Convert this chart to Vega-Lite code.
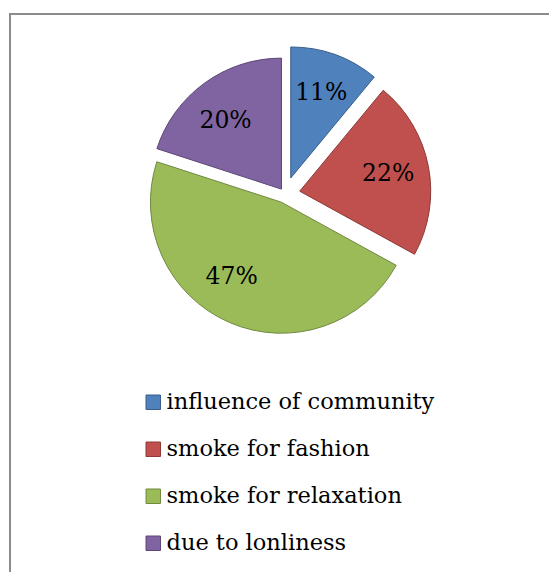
{
  "$schema": "https://vega.github.io/schema/vega-lite/v6.json",
  "width": 550,
  "height": 580,
  "autosize": {"type": "none"},
  "padding": {"left": 10, "top": 14, "right": 0, "bottom": 0},
  "background": "white",
  "config": {
    "view": {"stroke": null},
    "font": "DejaVu Serif"
  },
  "data": {
    "values": [
      {"cause": "influence of community", "pct": 0.11, "rank": 1},
      {"cause": "smoke for fashion", "pct": 0.22, "rank": 2},
      {"cause": "smoke for relaxation", "pct": 0.47, "rank": 3},
      {"cause": "due to lonliness", "pct": 0.20, "rank": 4}
    ]
  },
  "layer": [
    {
      "data": {"values": [{"frame": "border"}]},
      "mark": {"type": "rect", "fill": null, "stroke": "#8c8c8c", "strokeWidth": 2},
      "encoding": {}
    },
    {
      "mark": {
        "type": "arc",
        "radius": 131,
        "strokeWidth": 1,
        "x": {"expr": "width/2"},
        "y": {"expr": "height*0.3103"},
        "xOffset": {"expr": "(datum.cause === 'influence of community' ? 17 : datum.cause === 'smoke for fashion' ? 15 : datum.cause === 'smoke for relaxation' ? 9 : 6) * sin((scale('theta', datum.pct_start) + scale('theta', datum.pct_end)) / 2)"},
        "yOffset": {"expr": "-(datum.cause === 'influence of community' ? 17 : datum.cause === 'smoke for fashion' ? 15 : datum.cause === 'smoke for relaxation' ? 9 : 6) * cos((scale('theta', datum.pct_start) + scale('theta', datum.pct_end)) / 2)"}
      },
      "encoding": {
        "theta": {"field": "pct", "type": "quantitative", "stack": true},
        "order": {"field": "rank", "type": "quantitative", "sort": "ascending"},
        "color": {
          "field": "cause",
          "type": "nominal",
          "scale": {
            "domain": ["influence of community", "smoke for fashion", "smoke for relaxation", "due to lonliness"],
            "range": ["#4F81BD", "#C0504D", "#9BBB59", "#8064A2"]
          },
          "legend": {
            "title": null,
            "orient": "none",
            "legendX": 132,
            "legendY": 377,
            "padding": 0,
            "direction": "vertical",
            "symbolType": "square",
            "symbolSize": 210,
            "symbolStrokeWidth": 1,
            "symbolOpacity": 1,
            "labelFont": "DejaVu Serif",
            "labelFontSize": 22.5,
            "labelColor": "#000000",
            "labelOffset": 2,
            "rowPadding": 24,
            "labelLimit": 400
          }
        },
        "stroke": {
          "field": "cause",
          "type": "nominal",
          "scale": {
            "domain": ["influence of community", "smoke for fashion", "smoke for relaxation", "due to lonliness"],
            "range": ["#385D8A", "#8C3836", "#71893F", "#5C4776"]
          }
        }
      }
    },
    {
      "mark": {
        "type": "text",
        "radius": 90,
        "fontSize": 23.5,
        "font": "DejaVu Serif",
        "color": "#000000",
        "baseline": "middle",
        "align": "center",
        "x": {"expr": "width/2"},
        "y": {"expr": "height*0.3103"},
        "xOffset": {"expr": "(datum.cause === 'influence of community' ? 17 : datum.cause === 'smoke for fashion' ? 15 : datum.cause === 'smoke for relaxation' ? 9 : 6) * sin((scale('theta', datum.pct_start) + scale('theta', datum.pct_end)) / 2) + (datum.cause === 'smoke for relaxation' ? -14 : datum.cause === 'due to lonliness' ? -3 : 0)"},
        "yOffset": {"expr": "-(datum.cause === 'influence of community' ? 17 : datum.cause === 'smoke for fashion' ? 15 : datum.cause === 'smoke for relaxation' ? 9 : 6) * cos((scale('theta', datum.pct_start) + scale('theta', datum.pct_end)) / 2) + (datum.cause === 'smoke for relaxation' ? -8 : datum.cause === 'due to lonliness' ? 5 : 0)"}
      },
      "encoding": {
        "theta": {"field": "pct", "type": "quantitative", "stack": true},
        "order": {"field": "rank", "type": "quantitative", "sort": "ascending"},
        "detail": {"field": "cause", "type": "nominal"},
        "text": {"field": "pct", "type": "quantitative", "format": ".0%"}
      }
    }
  ]
}
